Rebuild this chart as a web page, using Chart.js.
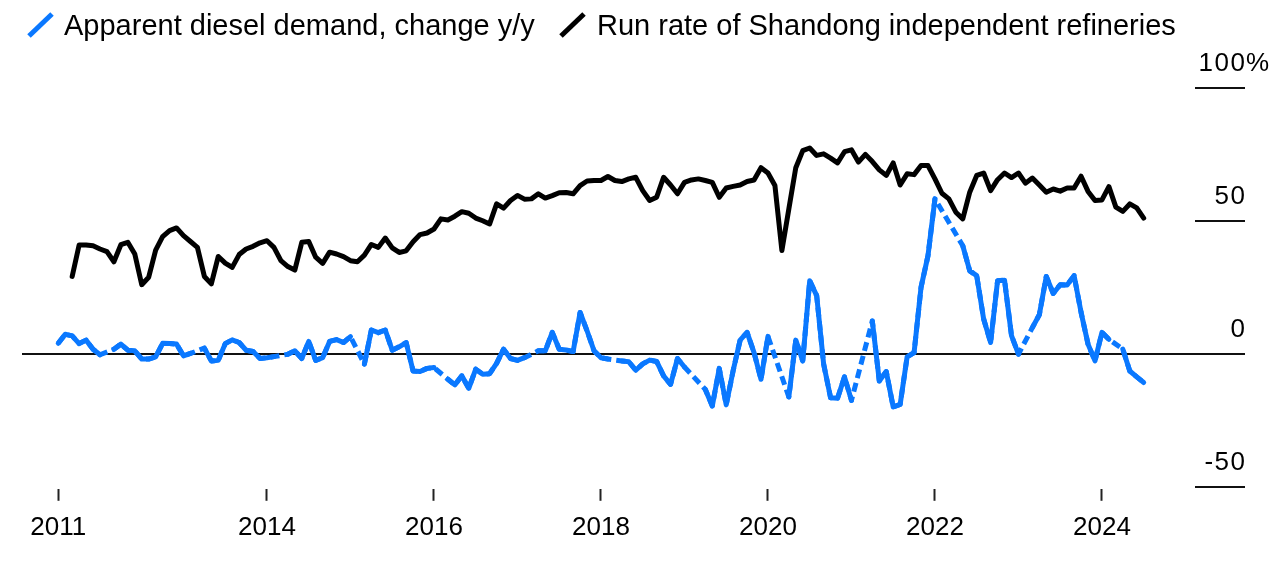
<!DOCTYPE html>
<html>
<head>
<meta charset="utf-8">
<script src="https://cdn.jsdelivr.net/npm/chart.js@4.4.1/dist/chart.umd.min.js"></script>
<style>
    body { margin: 0; background: #fff; }
    #wrap { position: relative; width: 1276px; height: 568px; font-family: "Liberation Sans", Arial, sans-serif; }
    .key { position: absolute; top: 11px; font-size: 29px; line-height: 29px; color: #000; white-space: nowrap; }
    .slash { position: absolute; top: 11px; }
</style>
</head>
<body>
<div id="wrap">
    <svg class="slash" style="left:26px" width="30" height="28"><line x1="3" y1="25" x2="26" y2="3" stroke="#0a78ff" stroke-width="5"/></svg>
    <div class="key" style="left:64px">Apparent diesel demand, change y/y</div>
    <svg class="slash" style="left:558px" width="30" height="28"><line x1="3" y1="25" x2="26" y2="3" stroke="#000" stroke-width="5"/></svg>
    <div class="key" style="left:597px">Run rate of Shandong independent refineries</div>
    <canvas id="chart" width="1276" height="568"></canvas>
</div>
<script>
// monthly, Jul 2011 .. Jul 2024 (index 0 = Jul 2011)
const firstYear = 2011, firstMonth = 7;
const monthCount = 157;

// apparent diesel demand, % change y/y (null = missing month, drawn dashed)
const dieselDemand = [
    4.1, 7.5, 6.9, 4.0, 5.3, 1.9, -0.2, null, 1.9, 3.8,
    1.5, 1.3, -1.8, -1.8, -1.0, 4.1, 4.0, 3.8, -0.6, 0.3,
    null, 2.3, -2.5, -2.3, 4.0, 5.4, 4.4, 1.5, 1.0, -1.6,
    -1.3, -0.9, null, 0.0, 1.3, -1.6, 4.8, -2.3, -1.3, 4.8,
    5.5, 4.4, 6.6, null, -3.7, 9.1, 8.1, 9.1, 1.5, 2.8,
    4.4, -6.3, -6.5, -5.3, -5.0, null, -9.4, -11.5, -8.1, -12.8,
    -5.6, -7.5, -7.3, -3.4, 1.9, -1.6, -2.3, -1.3, null, 1.3,
    1.3, 8.2, 1.9, 1.6, 1.0, 15.7, 8.8, 1.3, -1.3, -1.8,
    null, -2.5, -2.8, -6.0, -3.6, -2.2, -2.7, -8.1, -11.3, -1.6,
    -4.8, null, null, -13.2, -19.4, -5.3, -19.0, -6.1, 5.3, 8.2,
    0.6, -9.4, 6.7, null, null, -16.0, 5.3, -2.5, 27.6, 22.0,
    -3.7, -16.3, -16.5, -8.5, -17.3, null, null, 12.5, -10.0, -6.5,
    -19.8, -18.8, -1.0, 0.6, 25.1, 37.0, 58.3, null, null, null,
    40.7, 31.3, 29.5, 13.2, 4.4, 27.6, 27.8, 7.0, 0.0, null,
    10.0, 14.8, 29.2, 22.8, 26.1, 26.0, 29.5, 15.7, 3.8, -2.5,
    8.2, 5.6, null, 1.9, -6.3, -8.5, -10.6
];

// run rate of Shandong independent refineries, %
const runRate = [
    null, null, 29.2, 41.0, 41.0, 40.7, 39.5, 38.5, 34.7, 41.1,
    42.0, 37.6, 26.1, 28.9, 39.1, 44.1, 46.4, 47.4, 44.5, 42.3,
    40.1, 29.2, 26.4, 36.7, 34.2, 32.6, 37.4, 39.5, 40.5, 41.8,
    42.6, 40.1, 35.1, 32.9, 31.6, 42.0, 42.3, 36.4, 34.1, 38.3,
    37.6, 36.6, 35.1, 34.7, 37.2, 41.2, 40.1, 43.6, 39.9, 38.2,
    38.8, 42.2, 44.9, 45.5, 47.0, 50.8, 50.4, 51.8, 53.5, 52.9,
    51.1, 50.1, 48.9, 56.4, 54.8, 57.7, 59.6, 58.2, 58.3, 60.2,
    58.6, 59.5, 60.6, 60.7, 60.2, 63.3, 65.0, 65.2, 65.2, 66.7,
    65.2, 64.8, 65.8, 66.4, 61.4, 57.7, 58.9, 66.4, 63.5, 60.2,
    64.5, 65.4, 65.8, 65.2, 64.5, 58.9, 62.4, 63.0, 63.5, 64.8,
    65.4, 70.0, 68.0, 63.3, 38.9, 54.5, 70.0, 76.4, 77.4, 74.6,
    75.2, 73.6, 71.8, 76.0, 76.7, 72.1, 75.0, 72.3, 69.2, 67.1,
    71.8, 63.5, 67.7, 67.4, 70.8, 70.8, 65.8, 60.4, 58.3, 53.3,
    50.8, 60.8, 67.1, 68.0, 61.4, 65.5, 68.0, 66.3, 68.0, 64.2,
    66.1, 63.5, 60.8, 62.0, 61.2, 62.4, 62.4, 66.8, 61.1, 57.7,
    57.9, 62.9, 55.2, 53.6, 56.4, 54.9, 51.1
];

// x ticks (month index) and their labels
const xTickPos = [0, 30, 54, 78, 102, 126, 150];
const xTickLabels = ['2011', '2014', '2016', '2018', '2020', '2022', '2024'];

// y ticks
const yTickValues = [100, 50, 0, -50];
const yTickLabels = ['100%', '50', '0', '-50'];

const BLUE = '#0a78ff';
const FONT = '"Liberation Sans", Arial, sans-serif';

const months = [];
for (let i = 0; i < monthCount; i++) {
    const m = firstMonth - 1 + i;
    months.push((firstYear + Math.floor(m / 12)) + '-' + String(m % 12 + 1).padStart(2, '0'));
}

const toPoints = arr => arr.map((v, i) => ({ x: i, y: v }));

// y reference lines + labels at the right edge
const refLines = {
    id: 'refLines',
    beforeDatasetsDraw(chart) {
        const ctx = chart.ctx;
        const y = chart.scales.y;
        const area = chart.chartArea;
        ctx.save();
        ctx.strokeStyle = '#111';
        ctx.lineWidth = 2;
        ctx.fillStyle = '#000';
        ctx.font = '26px ' + FONT;
        ctx.textBaseline = 'alphabetic';
        if ('letterSpacing' in ctx) ctx.letterSpacing = '1.5px';
        yTickValues.forEach((v, i) => {
            const py = Math.round(y.getPixelForValue(v));
            ctx.beginPath();
            ctx.moveTo(v === 0 ? area.left : area.right - 50, py);
            ctx.lineTo(area.right, py);
            ctx.stroke();
            let txt = yTickLabels[i];
            let unit = '';
            if (txt.endsWith('%')) { unit = '%'; txt = txt.slice(0, -1); }
            ctx.textAlign = 'right';
            ctx.fillText(txt, area.right + 1.5, py - 17);
            if (unit) {
                ctx.textAlign = 'left';
                ctx.fillText(unit, area.right + 1, py - 17);
            }
        });
        ctx.restore();
    }
};

new Chart(document.getElementById('chart'), {
    type: 'line',
    data: {
        labels: months,
        datasets: [
            {
                label: 'Apparent diesel demand, change y/y',
                data: toPoints(dieselDemand),
                borderColor: BLUE,
                borderWidth: 5,
                spanGaps: false,
                order: 0
            },
            {
                label: 'Apparent diesel demand (gaps)',
                data: toPoints(dieselDemand),
                borderColor: BLUE,
                borderWidth: 5,
                borderDash: [9, 5],
                borderCapStyle: 'butt',
                spanGaps: true,
                order: 1
            },
            {
                label: 'Run rate of Shandong independent refineries',
                data: toPoints(runRate),
                borderColor: '#000',
                borderWidth: 5,
                spanGaps: false,
                order: 2
            }
        ]
    },
    options: {
        responsive: false,
        animation: false,
        events: [],
        layout: { padding: { left: 22, right: 31, top: 60, bottom: 13 } },
        elements: {
            point: { radius: 0 },
            line: { tension: 0, borderJoinStyle: 'round', borderCapStyle: 'round' }
        },
        plugins: {
            legend: { display: false },
            tooltip: { enabled: false }
        },
        scales: {
            x: {
                type: 'linear',
                min: -5.21,
                max: 170.56,
                border: { display: false },
                grid: { drawOnChartArea: false, drawTicks: true, tickLength: 12, tickWidth: 2, tickColor: '#222' },
                afterBuildTicks: scale => { scale.ticks = xTickPos.map(v => ({ value: v })); },
                ticks: {
                    autoSkip: false,
                    maxRotation: 0,
                    padding: 11.5,
                    color: '#000',
                    font: { family: FONT, size: 26 },
                    callback: v => xTickLabels[xTickPos.indexOf(v)]
                }
            },
            y: { display: false, min: -50.49, max: 110.41 }
        }
    },
    plugins: [refLines]
});
</script>
</body>
</html>
